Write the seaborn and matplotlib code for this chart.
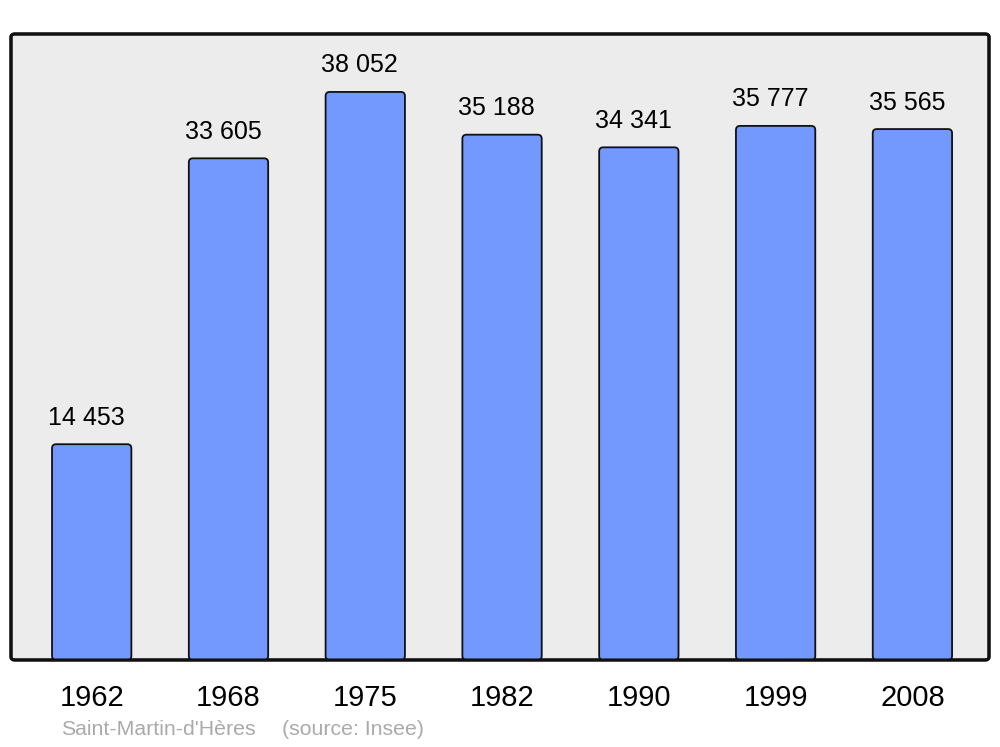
import numpy as np
import pandas as pd
import matplotlib
matplotlib.use("Agg")
import matplotlib.pyplot as plt
import seaborn as sns
from matplotlib.patches import FancyBboxPatch

years = ["1962", "1968", "1975", "1982", "1990", "1999", "2008"]
population = [14453, 33605, 38052, 35188, 34341, 35777, 35565]
labels = ["14 453", "33 605", "38 052", "35 188", "34 341", "35 777", "35 565"]
commune = "Saint-Martin-d'Hères"
source = "(source: Insee)"

sns.set_style("white")
plt.rcParams["font.family"] = ["Liberation Sans", "DejaVu Sans"]

df = pd.DataFrame({"year": years, "pop": population})

fig = plt.figure(figsize=(10, 7.47), dpi=100)
ax = fig.add_axes([0.011, 0.1165, 0.978, 0.838])

sns.barplot(data=df, x="year", y="pop", hue="year", palette=["#7399ff"] * len(years),
            legend=False, width=0.58, ax=ax, edgecolor="none", linewidth=0)

ax.set_xlim(-0.59, 6.56)
ax.set_ylim(0, max(population) * 1.102)
ax.set_facecolor("none")
for s in ax.spines.values():
    s.set_visible(False)

# rounded grey panel behind the bars
panel = FancyBboxPatch((0, 0), 1, 1, boxstyle="round,pad=0,rounding_size=0.004",
                       transform=ax.transAxes, facecolor="#ececec", edgecolor="#111111",
                       linewidth=2.2, zorder=0, clip_on=False, mutation_aspect=1.17)
ax.add_patch(panel)

# swap the seaborn bars for rounded ones at the same place
bars = [b for b in ax.patches if b is not panel]
for b in bars:
    x, y0 = b.get_x(), b.get_y()
    w, h = b.get_width(), b.get_height()
    rb = FancyBboxPatch((x, y0), w, h, boxstyle="round,pad=0,rounding_size=0.03",
                        mutation_aspect=(ax.get_ylim()[1] / 626) / (7.15 / 978),
                        facecolor="#7399ff", edgecolor="#111111", linewidth=1.3, zorder=2)
    ax.add_patch(rb)
    b.set_visible(False)

for i, (v, lab) in enumerate(zip(population, labels)):
    ax.annotate(lab, (i, v), xytext=(-4, 14), textcoords="offset points",
                ha="center", va="baseline", fontsize=18, color="black")

# border again, on top of bar bottoms
border = FancyBboxPatch((0, 0), 1, 1, boxstyle="round,pad=0,rounding_size=0.004",
                        transform=ax.transAxes, facecolor="none", edgecolor="#111111",
                        linewidth=2.2, zorder=3, clip_on=False, mutation_aspect=1.17)
ax.add_patch(border)

ax.set_xticks(range(len(years)))
ax.set_xticklabels(years, fontsize=21, color="black")
ax.tick_params(axis="x", length=0, pad=17)
ax.set_yticks([])
ax.set_xlabel("")
ax.set_ylabel("")

fig.text(0.061, 0.0228, commune, fontsize=15.3, color="#aaaaaa", va="center", ha="left")
fig.text(0.282, 0.0228, source, fontsize=15.3, color="#aaaaaa", va="center", ha="left")

fig.savefig("out.png", dpi=100)
